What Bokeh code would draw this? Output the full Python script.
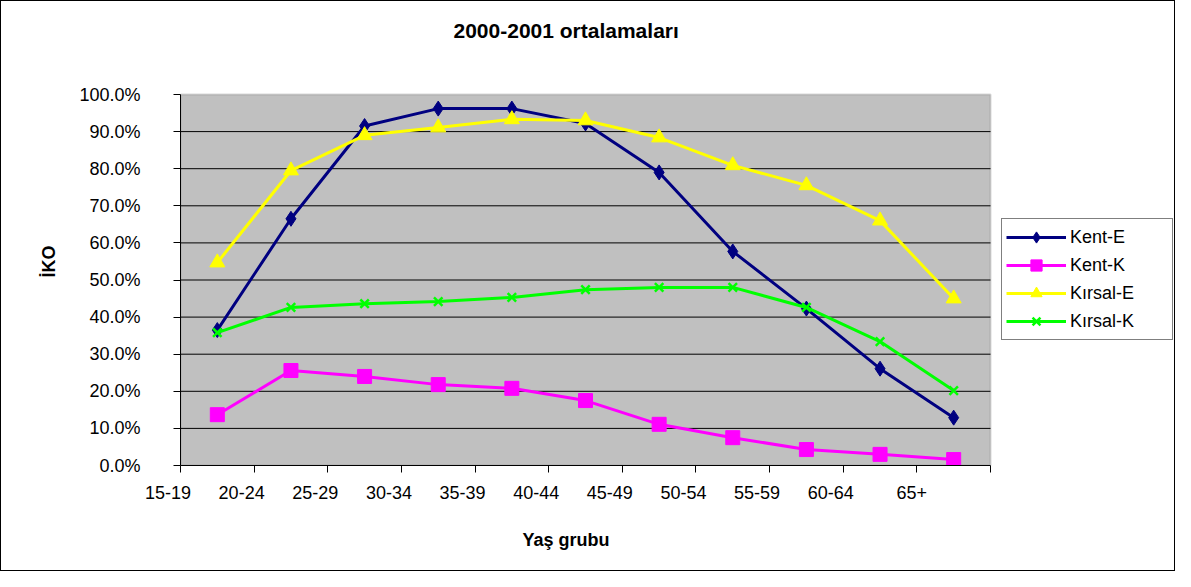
from bokeh.plotting import figure
from bokeh.models import (Range1d, FixedTicker, NumeralTickFormatter, BoxAnnotation,
                          Legend, LegendItem, Label, Title, ColumnDataSource)
from bokeh.embed import file_html
from bokeh.resources import INLINE

# ---- data ----
categories = ["15-19", "20-24", "25-29", "30-34", "35-39", "40-44",
              "45-49", "50-54", "55-59", "60-64", "65+"]
kent_e = [0.365, 0.665, 0.915, 0.962, 0.962, 0.922, 0.790, 0.577, 0.423, 0.261, 0.129]
kent_k = [0.137, 0.256, 0.240, 0.218, 0.208, 0.175, 0.111, 0.075, 0.043, 0.030, 0.016]
kirsal_e = [0.547, 0.795, 0.890, 0.911, 0.933, 0.930, 0.884, 0.809, 0.755, 0.660, 0.450]
kirsal_k = [0.358, 0.426, 0.436, 0.442, 0.453, 0.474, 0.480, 0.480, 0.426, 0.334, 0.202]
y_ticks = [0.0, 0.1, 0.2, 0.3, 0.4, 0.5, 0.6, 0.7, 0.8, 0.9, 1.0]

FONT = "Liberation Sans"
NB = "\u00a0"

# ---- layout (pixels) ----
W, H = 1175, 571
B_LEFT, B_RIGHT, B_TOP, B_BOTTOM = 179, 2, 4, 107
PLOT_W, PLOT_H = 810, 371            # grey plotting area inside the frame
FRAME_W = W - B_LEFT - B_RIGHT
FRAME_H = H - B_TOP - B_BOTTOM

n = len(categories)
px_x = PLOT_W / n                    # pixels per category
x_end = FRAME_W / px_x
y_end = FRAME_H / PLOT_H

xs = [i + 0.5 for i in range(n)]
src = ColumnDataSource(dict(x=xs, ke=kent_e, kk=kent_k, re=kirsal_e, rk=kirsal_k))

p = figure(width=W, height=H, output_backend="svg", toolbar_location=None,
           x_range=Range1d(0, x_end), y_range=Range1d(0, y_end),
           min_border_left=B_LEFT, min_border_right=B_RIGHT,
           min_border_top=B_TOP, min_border_bottom=B_BOTTOM,
           background_fill_color="white", border_fill_color="white",
           outline_line_color=None)
p.styles = {"border": "1px solid black"}
p.grid.visible = False

# grey plotting area and its border
p.add_layout(BoxAnnotation(left=0, right=n, bottom=0, top=1, fill_color="#C0C0C0",
                           fill_alpha=1, line_color=None, level="underlay"))
p.add_layout(BoxAnnotation(left=0, right=n, bottom=0, top=1, fill_alpha=0,
                           line_color="#808080", line_width=2, level="underlay"))

# horizontal grid lines at the inner y ticks
inner = y_ticks[1:-1]
p.segment(x0=[0] * len(inner), x1=[n] * len(inner), y0=inner, y1=inner,
          line_color="black", line_width=1)

# y axis
p.yaxis.bounds = (0, 1)
p.yaxis.ticker = FixedTicker(ticks=y_ticks)
p.yaxis.formatter = NumeralTickFormatter(format="0.0%")
p.yaxis.major_label_text_font = FONT
p.yaxis.major_label_text_font_size = "18px"
p.yaxis.major_label_text_color = "black"
p.yaxis.major_label_standoff = 33
p.yaxis.major_tick_out = 7
p.yaxis.major_tick_in = 0
p.yaxis.minor_tick_line_color = None
p.yaxis.axis_line_color = "black"
p.yaxis.major_tick_line_color = "black"

# x axis: ticks at category boundaries, labels at the left boundary of each
# category (Excel style, text right-aligned slightly past the tick)
def boundary_label(c):
    w = len(c) * 9.2
    k = max(0, round((w / 2 - 10) / 2.5))
    return c + NB * k

overrides = {i: boundary_label(c) for i, c in enumerate(categories)}
overrides[n] = ""
p.xaxis.bounds = (0, n)
p.xaxis.ticker = FixedTicker(ticks=list(range(n + 1)))
p.xaxis.major_label_overrides = overrides
p.xaxis.major_label_text_font = FONT
p.xaxis.major_label_text_font_size = "18px"
p.xaxis.major_label_text_color = "black"
p.xaxis.major_label_standoff = 10
p.xaxis.major_tick_out = 7
p.xaxis.major_tick_in = 0
p.xaxis.minor_tick_line_color = None
p.xaxis.axis_line_color = "black"
p.xaxis.major_tick_line_color = "black"

# axis titles
p.add_layout(Title(text="Yaş grubu", align="left", offset=342,
                   text_font=FONT, text_font_style="bold", text_font_size="18px",
                   text_color="black", standoff=45), "below")
p.add_layout(Title(text="İKO", align="left", offset=188,
                   text_font=FONT, text_font_style="bold", text_font_size="18px",
                   text_color="black", standoff=36), "left")

# series
r1l = p.line("x", "ke", source=src, line_color="#000080", line_width=3)
r1m = p.scatter("x", "ke", source=src, marker="diamond", size=15, fill_color="#000080", line_color="#000080")
r2l = p.line("x", "kk", source=src, line_color="#FF00FF", line_width=3)
r2m = p.scatter("x", "kk", source=src, marker="square", size=14, fill_color="#FF00FF", line_color="#FF00FF")
r3l = p.line("x", "re", source=src, line_color="#FFFF00", line_width=3)
r3m = p.scatter("x", "re", source=src, marker="triangle", size=15, fill_color="#FFFF00", line_color="#FFFF00")
r4l = p.line("x", "rk", source=src, line_color="#00FF00", line_width=3)
r4m = p.scatter("x", "rk", source=src, marker="x", size=12, line_color="#00FF00", line_width=2.5)

legend = Legend(items=[LegendItem(label="Kent-E", renderers=[r1l, r1m]),
                       LegendItem(label="Kent-K", renderers=[r2l, r2m]),
                       LegendItem(label="Kırsal-E", renderers=[r3l, r3m]),
                       LegendItem(label="Kırsal-K", renderers=[r4l, r4m])],
                location=(PLOT_W + 11, 125), orientation="vertical",
                border_line_color="black", border_line_width=1,
                background_fill_color="white", background_fill_alpha=1,
                label_text_font=FONT, label_text_font_size="18px", label_text_color="black",
                padding=4, spacing=0, glyph_height=28, glyph_width=60,
                label_standoff=4, label_width=98, label_height=20, margin=0)
p.add_layout(legend, "center")

# chart title (inside the extended frame, above the grey area)
p.add_layout(Label(x=273 / px_x, y=1 + 64 / PLOT_H,
                   text="2000-2001 ortalamaları", text_align="left", text_baseline="middle",
                   text_font=FONT, text_font_style="bold", text_font_size="21px",
                   text_color="black"))

open("out.html", "w").write(file_html(p, INLINE))
